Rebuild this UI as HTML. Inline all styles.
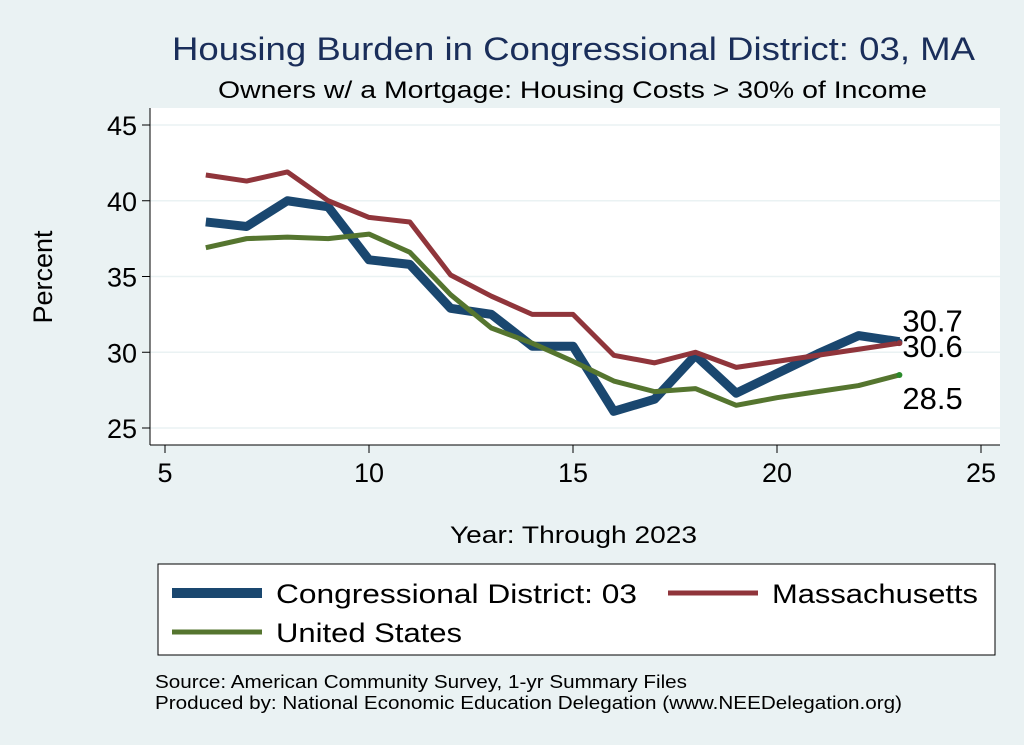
<!DOCTYPE html>
<html><head><meta charset="utf-8"><style>
body{margin:0;background:#eaf2f3;}
svg{display:block;font-family:"Liberation Sans",Arial,sans-serif;}
</style></head><body>
<svg id="chart" width="1024" height="745">
<rect x="0" y="0" width="1024" height="745" fill="#eaf2f3"/>
<text x="172" y="60" font-size="32" fill="#1a2e5a" textLength="803" lengthAdjust="spacingAndGlyphs">Housing Burden in Congressional District:  03, MA</text>
<text x="218" y="98" font-size="24" fill="#000" textLength="709" lengthAdjust="spacingAndGlyphs">Owners w/ a Mortgage: Housing Costs &gt; 30% of Income</text>
<rect x="150" y="108" width="850" height="337" fill="#fff"/>
<g id="grid"></g>
<g id="axes"></g>
<g id="series"></g>
<text x="52" y="277" text-anchor="middle" font-size="27" transform="rotate(-90 52 277)">Percent</text>
<text x="450" y="543" font-size="24" textLength="247" lengthAdjust="spacingAndGlyphs">Year: Through 2023</text>
<g>
<rect x="158" y="564" width="837" height="91" fill="#fff" stroke="#000" stroke-width="1"/>
<g><line x1="172" y1="593" x2="262" y2="593" stroke="#1a476f" stroke-width="10"/><text x="276" y="603" font-size="27" textLength="361" lengthAdjust="spacingAndGlyphs">Congressional District:  03</text></g>
<g><line x1="668" y1="593" x2="758" y2="593" stroke="#90353b" stroke-width="5"/><text x="772" y="603" font-size="27" textLength="206" lengthAdjust="spacingAndGlyphs">Massachusetts</text></g>
<g><line x1="172" y1="632" x2="262" y2="632" stroke="#55752f" stroke-width="5"/><text x="276" y="642" font-size="27" textLength="186" lengthAdjust="spacingAndGlyphs">United States</text></g>
</g>
<text x="155" y="688" font-size="18" textLength="532" lengthAdjust="spacingAndGlyphs">Source: American Community Survey, 1-yr Summary Files</text>
<text x="155" y="709" font-size="18" textLength="747" lengthAdjust="spacingAndGlyphs">Produced by: National Economic Education Delegation (www.NEEDelegation.org)</text>
</svg>
<script>
const years=[6,7,8,9,10,11,12,13,14,15,16,17,18,19,20,21,22,23];
const cd03=[38.6,38.3,40.0,39.6,36.1,35.8,32.9,32.5,30.4,30.4,26.1,26.9,29.8,27.3,28.6,29.9,31.1,30.7];
const massachusetts=[41.7,41.3,41.9,40.0,38.9,38.6,35.1,33.7,32.5,32.5,29.8,29.3,30.0,29.0,29.4,29.8,30.2,30.6];
const unitedStates=[36.9,37.5,37.6,37.5,37.8,36.6,33.8,31.6,30.6,29.4,28.1,27.4,27.6,26.5,27.0,27.4,27.8,28.5];
const xTicks=[5,10,15,20,25];
const yTicks=[25,30,35,40,45];
const NS='http://www.w3.org/2000/svg';
const X=v=>165+(v-5)*(981-165)/20;
const Y=v=>428-(v-25)*(428-125)/20;
function mk(t,a,p){const e=document.createElementNS(NS,t);for(const k in a)e.setAttribute(k,a[k]);p.appendChild(e);return e;}
const grid=document.getElementById('grid'),axes=document.getElementById('axes'),ser=document.getElementById('series');
mk('line',{x1:150,y1:445,x2:1000,y2:445,stroke:'#000','stroke-width':1},axes);
mk('line',{x1:150,y1:108,x2:150,y2:445,stroke:'#000','stroke-width':1},axes);
yTicks.forEach(t=>{
 const g=mk('line',{x1:150,y1:Y(t),x2:1000,y2:Y(t),stroke:'#eaf2f3','stroke-width':1.5},grid);
 
 
 mk('line',{x1:142,y1:Y(t),x2:150,y2:Y(t),stroke:'#000'},axes);
 const tx=mk('text',{x:137,y:Y(t)+10,'text-anchor':'end','font-size':27},axes);
 tx.textContent=t;
 
 
});
xTicks.forEach(t=>{
 mk('line',{x1:X(t),y1:445,x2:X(t),y2:453,stroke:'#000'},axes);
 const tx=mk('text',{x:X(t),y:482,'text-anchor':'middle','font-size':27},axes);
 tx.textContent=t;
 
 
});
function line(vals,color,w,name){
 const p=mk('polyline',{points:vals.map((v,i)=>X(years[i])+','+Y(v)).join(' '),fill:'none',stroke:color,'stroke-width':w,'stroke-linejoin':'round'},ser);
 
 
}
line(cd03,'#1a476f',9,'line-cd03');
line(massachusetts,'#90353b',5,'line-massachusetts');
line(unitedStates,'#55752f',5,'line-united-states');
const n=years.length-1;
[[cd03,'#1a476f',-10,'label-cd03'],[massachusetts,'#90353b',14,'label-massachusetts'],[unitedStates,'#2a8a2a',34,'label-united-states']].forEach(([a,c,dy,nm])=>{
 mk('circle',{cx:X(years[n]),cy:Y(a[n]),r:3,fill:c},ser);
 const tx=mk('text',{x:X(years[n])+3,y:Y(a[n])+dy,'font-size':31},ser);
 tx.textContent=a[n].toFixed(1);
 
 
});
</script>
</body></html>
